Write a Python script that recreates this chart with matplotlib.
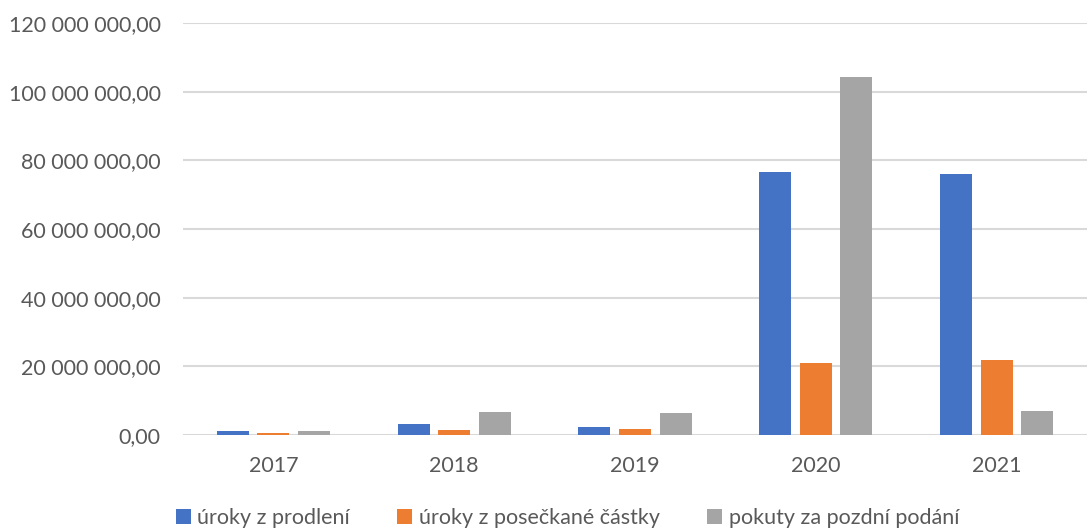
import matplotlib.pyplot as plt
import numpy as np
from matplotlib.ticker import FuncFormatter

plt.rcParams['font.family'] = ['Lato', 'DejaVu Sans']

years = ['2017', '2018', '2019', '2020', '2021']
series_names = ['úroky z prodlení', 'úroky z posečkané částky', 'pokuty za pozdní podání']
uroky_prodleni = [1.2e6, 3.2e6, 2.3e6, 76.7e6, 76.1e6]
uroky_poseckane = [0.6e6, 1.5e6, 1.8e6, 21.1e6, 21.9e6]
pokuty = [1.2e6, 6.7e6, 6.3e6, 104.4e6, 7.1e6]
colors = ['#4472c4', '#ed7d31', '#a5a5a5']


def fmt(v, pos):
    s = '{:,.2f}'.format(v)
    return s.replace(',', ' ').replace('.', ',')


fig = plt.figure(figsize=(10.87, 5.30), dpi=100)
ax = fig.add_axes([0.1684, 0.1792, 0.8316, 0.7774])

x = np.arange(len(years))
width = 0.177
step = 0.225
data = [uroky_prodleni, uroky_poseckane, pokuty]
for i in range(3):
    ax.bar(x + (i - 1) * step, data[i], width, color=colors[i], label=series_names[i],
           linewidth=0, zorder=3)

ax.set_xlim(-0.5, len(years) - 0.5)
ax.set_ylim(0, 120e6)
ax.set_yticks(np.arange(0, 120e6 + 1, 20e6))
ax.yaxis.set_major_formatter(FuncFormatter(fmt))
ax.set_xticks(x)
ax.set_xticklabels(years)
ax.grid(axis='y', color='#d9d9d9', linewidth=1.5, zorder=0)
for s in ['top', 'right', 'left', 'bottom']:
    ax.spines[s].set_visible(False)
ax.tick_params(axis='both', length=0, labelsize=15.5, colors='#595959')
ax.tick_params(axis='y', pad=16)
ax.tick_params(axis='x', pad=15)

fig.legend(loc='center', bbox_to_anchor=(0.522, 0.022), ncol=3, frameon=False,
           fontsize=15.5, labelcolor='#595959', handlelength=0.7, handleheight=0.7,
           handletextpad=0.3, columnspacing=2.2)

fig.savefig('out.png', dpi=100)
